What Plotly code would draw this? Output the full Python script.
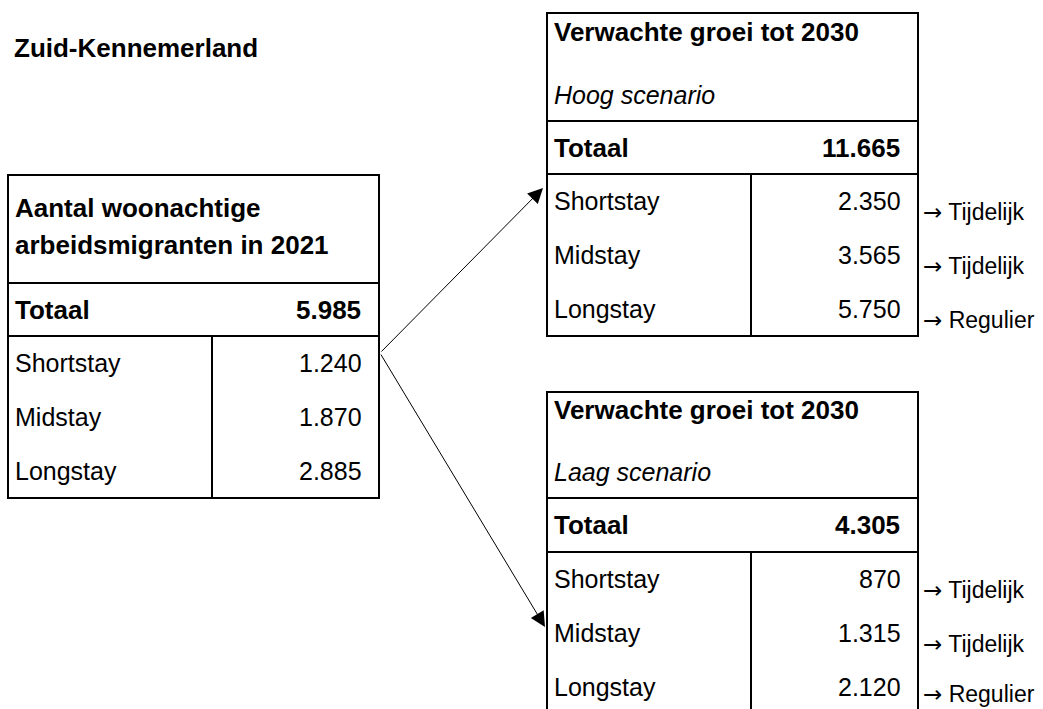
import plotly.graph_objects as go

# ---------------- data ----------------
region = "Zuid-Kennemerland"
categories = ["Shortstay", "Midstay", "Longstay"]
current_title = ["Aantal woonachtige", "arbeidsmigranten in 2021"]
current_values = [1240, 1870, 2885]
current_total = 5985

forecast_title = "Verwachte groei tot 2030"
high_label = "Hoog scenario"
high_values = [2350, 3565, 5750]
high_total = 11665
low_label = "Laag scenario"
low_values = [870, 1315, 2120]
low_total = 4305
housing_types = ["Tijdelijk", "Tijdelijk", "Regulier"]
total_label = "Totaal"


def nl(v):
    return f"{v:,}".replace(",", ".")


FONT = "Arial, Liberation Sans, sans-serif"
BLACK = "#000000"
FS = 25
FSB = 26

fig = go.Figure()
fig.add_trace(go.Scatter(x=[0, 1043], y=[0, 709], mode="markers",
                         marker=dict(opacity=0), hoverinfo="skip", showlegend=False))

shapes = []
annotations = []


def text(x, y, s, bold=False, italic=False, anchor="left", size=None):
    t = s
    if size is None:
        size = FSB if bold else FS
    if bold:
        t = f"<b>{t}</b>"
    if italic:
        t = f"<i>{t}</i>"
    annotations.append(dict(x=x, y=y, xref="x", yref="y", text=t, showarrow=False,
                            xanchor=anchor, yanchor="middle",
                            font=dict(family=FONT, size=size, color=BLACK)))


def line(x0, y0, x1, y1, w=2):
    shapes.append(dict(type="line", xref="x", yref="y", x0=x0, y0=y0, x1=x1, y1=y1,
                       line=dict(color=BLACK, width=w)))


def rect(x0, y0, x1, y1):
    shapes.append(dict(type="rect", xref="x", yref="y", x0=x0, y0=y0, x1=x1, y1=y1,
                       line=dict(color=BLACK, width=2), fillcolor="rgba(0,0,0,0)"))


def table(left, right, divider, top, head_bottom, total_bottom, row_h,
          head_lines, total, values, labels=None):
    bottom = total_bottom + row_h * len(values)
    rect(left, top, right, bottom)
    line(left, head_bottom, right, head_bottom)
    line(left, total_bottom, right, total_bottom)
    line(divider, total_bottom, divider, bottom)
    tx = left + 5
    vx = right - 16
    for (y, s, b, it) in head_lines:
        text(tx, y, s, bold=b, italic=it)
    ty = (head_bottom + total_bottom) / 2
    text(tx, ty, total_label, bold=True)
    text(vx, ty, nl(total), bold=True, anchor="right")
    for i, (c, v) in enumerate(zip(categories, values)):
        ry = total_bottom + row_h * (i + 0.5)
        text(tx, ry, c)
        text(vx + 1, ry, nl(v), anchor="right")
        if labels:
            ly = min(ry + 11, 694)
            arrow = '<span style="font-family:DejaVu Sans">\u2192</span>'
            text(right + 3, ly, arrow + " " + labels[i], size=23)


# title
text(12, 48, region, bold=True)

# left table
table(8, 379, 212, 175, 283, 336, 54,
      [(208, current_title[0], True, False), (245, current_title[1], True, False)],
      current_total, current_values)

# top right
table(547, 918, 751, 13, 121, 174, 54,
      [(32, forecast_title, True, False), (94.5, high_label, False, True)],
      high_total, high_values, housing_types)

# bottom right
table(547, 918, 751, 392, 498, 552, 54,
      [(410, forecast_title, True, False), (471.5, low_label, False, True)],
      low_total, low_values, housing_types)

# arrows
for tip in [(543, 188), (545, 627)]:
    annotations.append(dict(x=tip[0], y=tip[1], ax=380, ay=353, xref="x", yref="y",
                            axref="x", ayref="y", text="", showarrow=True,
                            arrowhead=2, arrowsize=3, arrowwidth=1, arrowcolor=BLACK))

fig.update_layout(
    width=1043, height=709,
    margin=dict(l=0, r=0, t=0, b=0),
    paper_bgcolor="white", plot_bgcolor="white",
    xaxis=dict(range=[0, 1043], visible=False, fixedrange=True),
    yaxis=dict(range=[709, 0], visible=False, fixedrange=True),
    shapes=shapes, annotations=annotations, showlegend=False,
)

fig.write_html("out.html", config={"displayModeBar": False},
               post_script="document.body.style.margin='0';document.body.style.overflow='hidden';")
